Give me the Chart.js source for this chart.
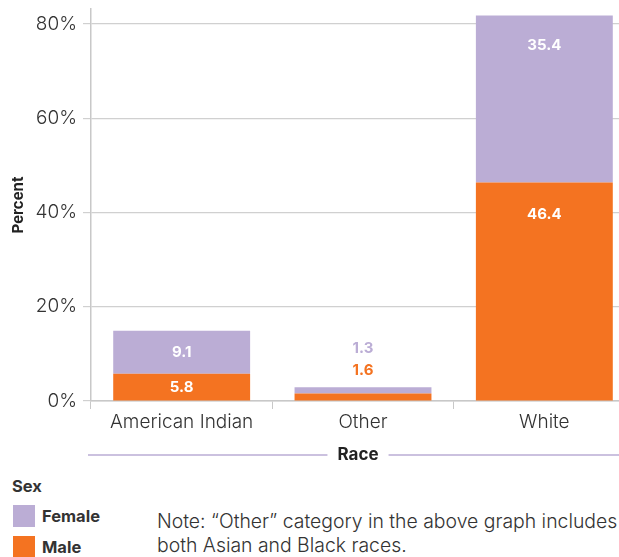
<!DOCTYPE html>
<html>
<head>
<meta charset="utf-8">
<script src="https://cdn.jsdelivr.net/npm/chart.js@4"></script>
<style>
  body { margin:0; overflow:hidden; background:#fff; font-family: Inter, "Noto Sans", sans-serif; color:#333; }
  #wrap { position:absolute; left:0; top:0; width:636px; height:470px; }
  .lg { position:absolute; font-weight:bold; font-size:16.5px; color:#333; }
  .sw { position:absolute; width:22px; height:22px; }
  .note { position:absolute; left:157px; font-size:19.4px; color:#333; font-weight:300; white-space:nowrap; }
</style>
</head>
<body>
<div id="wrap"><canvas id="chartBar" width="636" height="470"></canvas></div>
<div class="lg" style="left:12px;top:476px;">Sex</div>
<div class="sw" style="left:13px;top:505px;background:#bbadd5;"></div>
<div class="lg" style="left:42px;top:506px;">Female</div>
<div class="sw" style="left:13px;top:536px;background:#f47321;"></div>
<div class="lg" style="left:42px;top:537px;">Male</div>
<div class="note" style="top:509px;">Note: “Other” category in the above graph includes</div>
<div class="note" style="top:533px;">both Asian and Black races.</div>
<script>
var races = ['American Indian', 'Other', 'White'];
var male = [5.8, 1.6, 46.4];
var female = [9.1, 1.3, 35.4];
var yTicks = [0, 20, 40, 60, 80];

var orange = '#f47321';
var purple = '#bbadd5';
var fontFam = 'Inter, "Noto Sans", sans-serif';

// labels on the bars
var barLabels = {
  id: 'barLabels',
  afterDatasetsDraw: function(chart) {
    var ctx = chart.ctx;
    ctx.save();
    ctx.font = 'bold 15px ' + fontFam;
    ctx.textAlign = 'center';
    ctx.textBaseline = 'middle';
    var mMeta = chart.getDatasetMeta(0);
    var fMeta = chart.getDatasetMeta(1);
    for (var j = 0; j < races.length; j++) {
      var m = mMeta.data[j], f = fMeta.data[j];
      if (m.base - m.y < 20) {
        var top = f.y;
        ctx.fillStyle = orange;
        ctx.fillText(male[j].toFixed(1), m.x, top - 17);
        ctx.fillStyle = purple;
        ctx.fillText(female[j].toFixed(1), f.x, top - 39);
      } else {
        ctx.fillStyle = '#fff';
        ctx.fillText(male[j].toFixed(1), m.x, Math.min((m.y + m.base) / 2, m.y + 32));
        ctx.fillText(female[j].toFixed(1), f.x, Math.min((f.y + f.base) / 2, f.y + 30));
      }
    }
    // y title
    ctx.fillStyle = '#222';
    ctx.font = 'bold 15px ' + fontFam;
    ctx.translate(18, (chart.chartArea.top + chart.chartArea.bottom) / 2);
    ctx.rotate(-Math.PI / 2);
    ctx.fillText('Percent', 0, 0);
    ctx.restore();
    // x title with line
    ctx.save();
    var cx = 358, cy = 455;
    ctx.font = 'bold 17px ' + fontFam;
    ctx.textAlign = 'center';
    ctx.textBaseline = 'middle';
    ctx.fillStyle = '#222';
    ctx.fillText('Race', cx, cy);
    var w = ctx.measureText('Race').width;
    ctx.strokeStyle = purple;
    ctx.lineWidth = 1.5;
    ctx.beginPath();
    ctx.moveTo(88, cy); ctx.lineTo(cx - w / 2 - 10, cy);
    ctx.moveTo(cx + w / 2 + 10, cy); ctx.lineTo(636, cy);
    ctx.stroke();
    ctx.restore();
  }
};

var chartBar = document.getElementById('chartBar').getContext('2d');
new Chart(chartBar, {
  type: 'bar',
  data: {
    labels: races,
    datasets: [
      { label: 'Male', data: male, backgroundColor: orange, categoryPercentage: 0.755, barPercentage: 1 },
      { label: 'Female', data: female, backgroundColor: purple, categoryPercentage: 0.755, barPercentage: 1 }
    ]
  },
  options: {
    responsive: false,
    animation: false,
    layout: { padding: { top: 9, right: 1, left: 0, bottom: 0 } },
    plugins: { legend: { display: false }, tooltip: { enabled: false } },
    scales: {
      x: {
        stacked: true,
        afterFit: function(s) { s.height = 69; s.paddingLeft = 0; s.paddingRight = 0; },
        grid: { offset: true, drawOnChartArea: false, tickLength: 8, color: '#c8c8c8' },
        border: { color: '#c8c8c8', width: 1.5 },
        ticks: { color: '#333', font: { family: fontFam, size: 19, weight: 300 }, padding: 2 }
      },
      y: {
        stacked: true,
        min: 0,
        max: 83.2,
        afterFit: function(s) { s.width = 91; s.paddingTop = 0; s.paddingBottom = 0; },
        afterBuildTicks: function(s) {
          s.ticks = yTicks.map(function(v) { return { value: v }; });
        },
        grid: { color: '#d0d0d0', tickLength: 8, lineWidth: 1.2 },
        border: { color: '#c8c8c8', width: 1.5 },
        ticks: {
          color: '#333',
          font: { family: fontFam, size: 19, weight: 300 },
          padding: 6,
          callback: function(v) { return v + '%'; }
        }
      }
    }
  },
  plugins: [barLabels]
});
</script>
</body>
</html>
